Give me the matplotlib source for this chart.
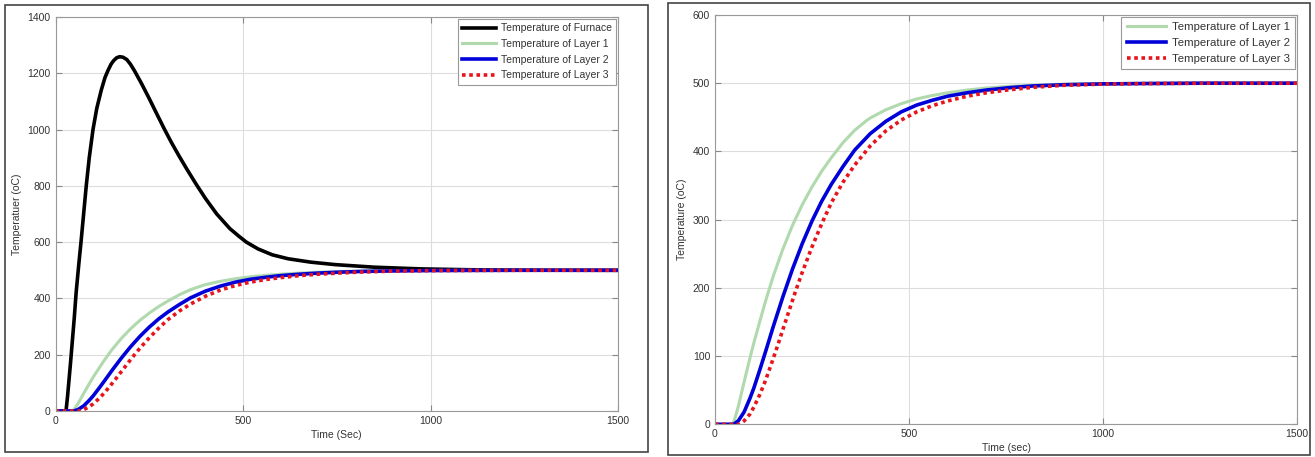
import numpy as np
import matplotlib
matplotlib.use("Agg")
import matplotlib.pyplot as plt
from matplotlib.patches import Rectangle

# furnace temperature (left panel only)
furnace_time = [0, 28, 32, 36, 40, 45, 50, 55, 62, 68, 75, 82, 90, 100, 110, 122, 132,
                140, 148, 155, 163, 171, 180, 190, 200, 211, 230, 250, 270, 291, 310,
                330, 350, 375, 400, 430, 465, 490, 509, 540, 578, 620, 680, 747, 850,
                973, 1100, 1250, 1500]
furnace_temp = [0, 0, 50, 110, 170, 250, 330, 420, 520, 600, 700, 800, 900, 1000, 1075,
                1140, 1185, 1210, 1232, 1245, 1255, 1259, 1257, 1249, 1232, 1208, 1162,
                1110, 1056, 1000, 952, 905, 860, 806, 755, 700, 648, 620, 600, 576, 555,
                541, 529, 520, 511, 505, 502, 500.5, 500]

# layer temperatures (same in both panels)
layer1_time = [0, 45, 50, 60, 75, 90, 100, 115, 130, 150, 175, 200, 225, 250, 275, 300,
               330, 360, 390, 400, 440, 480, 520, 560, 600, 650, 700, 760, 820, 900,
               1000, 1100, 1250, 1500]
layer1 = [0, 0, 6, 26, 62, 97, 119, 150, 180, 217, 257, 292, 322, 348, 371, 391,
          413, 431, 445, 449, 461, 470, 477, 482, 486, 490, 493, 495.5, 497, 498.5,
          499.3, 499.7, 500, 500]

layer2_time = [0, 48, 60, 75, 90, 100, 115, 130, 150, 175, 200, 225, 250, 275, 300,
               330, 360, 390, 400, 440, 480, 520, 560, 600, 650, 700, 760, 820, 900,
               1000, 1100, 1250, 1500]
layer2 = [0, 0, 5, 18, 38, 53, 79, 106, 143, 187, 228, 265, 298, 327, 352,
          378, 402, 420, 426, 444, 458, 468, 475, 481, 486, 490, 493.5, 496, 497.8,
          499, 499.5, 500, 500]

layer3_time = [0, 62, 75, 90, 100, 115, 130, 145, 160, 175, 190, 207, 225, 250, 275,
               300, 330, 360, 400, 440, 480, 520, 560, 600, 650, 700, 760, 820, 900,
               1000, 1100, 1250, 1500]
layer3 = [0, 0, 5, 15, 25, 43, 64, 88, 113, 139, 165, 194, 223, 260, 294,
          325, 355, 380, 408, 430, 446, 458, 467, 474, 481, 486, 490.5, 494, 497,
          498.7, 499.4, 500, 500]

txt = '#333333'
plt.rcParams['font.family'] = 'Liberation Sans'
plt.rcParams['font.size'] = 7

fig = plt.figure(figsize=(13.15, 4.57), dpi=100)

# frames around each panel
fig.patches.append(Rectangle((5 / 1315, 1 - 452 / 457), 643 / 1315, 447 / 457,
                             transform=fig.transFigure, fill=False, ec='#444444', lw=1.2))
fig.patches.append(Rectangle((668 / 1315, 1 - 455 / 457), 642 / 1315, 452 / 457,
                             transform=fig.transFigure, fill=False, ec='#444444', lw=1.2))

ax1 = fig.add_axes([55.5 / 1315, 46 / 457, 562.5 / 1315, 394 / 457])
ax2 = fig.add_axes([715 / 1315, 32.7 / 457, 582 / 1315, 409.3 / 457])


def style(ax, ymax, ystep, ylabel, xlabel):
    ax.set_xlim(0, 1500)
    ax.set_ylim(0, ymax)
    ax.set_xticks(np.arange(0, 1501, 500))
    ax.set_yticks(np.arange(0, ymax + 1, ystep))
    ax.grid(True, color='#dddddd', lw=0.8)
    ax.set_axisbelow(True)
    ax.tick_params(direction='in', length=4, colors='#888888', labelcolor=txt, labelsize=7.5,
                   top=True, right=True)
    for s in ax.spines.values():
        s.set_color('#999999')
    ax.set_ylabel(ylabel, color=txt, fontsize=7.5, labelpad=4)
    ax.set_xlabel(xlabel, color=txt, fontsize=7.5, labelpad=3)


ax1.plot(furnace_time, furnace_temp, color='black', lw=2.6, label='Temperature of Furnace')
for ax in (ax1, ax2):
    ax.plot(layer1_time, layer1, color='#b0d9ad', lw=2.2, label='Temperature of Layer 1')
    ax.plot(layer2_time, layer2, color='#0000d8', lw=2.6, label='Temperature of Layer 2')
    ax.plot(layer3_time, layer3, color='#e8141c', lw=2.6, ls=(0, (1, 1)), label='Temperature of Layer 3')

style(ax1, 1400, 200, 'Temperatuer (oC)', 'Time (Sec)')
style(ax2, 600, 100, 'Temperature (oC)', 'Time (sec)')

for ax, fs, hl in ((ax1, 7.5, 3.2), (ax2, 8.2, 3.5)):
    leg = ax.legend(loc='upper right', fontsize=fs, fancybox=False, framealpha=1,
                    edgecolor='#999999', handlelength=hl, borderaxespad=0.15,
                    labelspacing=0.55, borderpad=0.45, handletextpad=0.5)
    leg.get_frame().set_linewidth(0.8)
    for t in leg.get_texts():
        t.set_color(txt)

fig.savefig('out.png', dpi=100)
